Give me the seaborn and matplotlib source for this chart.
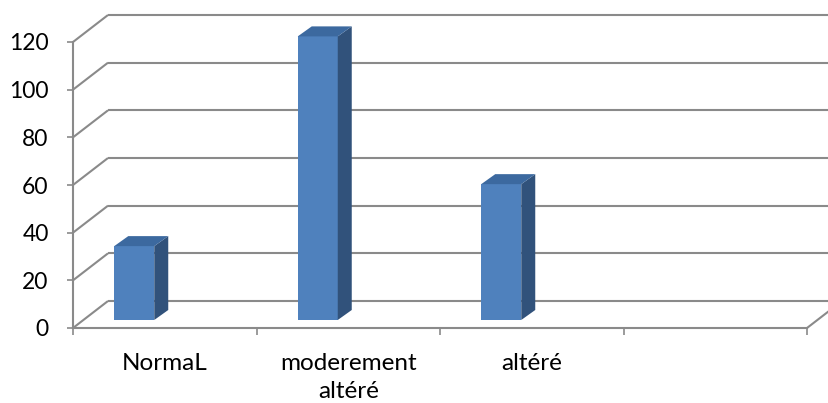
import numpy as np
import matplotlib
matplotlib.use("Agg")
import matplotlib.pyplot as plt
import matplotlib.transforms as mtransforms
from matplotlib.patches import Polygon
import seaborn as sns

# Data
categories = ["NormaL", "moderement\naltéré", "altéré"]
values = [31, 119, 57]
y_ticks = [0, 20, 40, 60, 80, 100, 120]
n_slots = 4  # the category axis keeps one empty slot on the right

# Styling
FRONT = "#4f81bd"
SIDE = "#31527b"
TOP = "#3c699f"
GRID = "#8a8a8a"

sns.set_theme(style="white")
plt.rcParams["font.family"] = ["Lato", "DejaVu Sans"]

W, H = 829, 403
fig = plt.figure(figsize=(W / 100, H / 100), dpi=100)
ax = fig.add_axes([73 / W, 75 / H, 734 / W, 286 / H])

sns.barplot(x=categories, y=values, color=FRONT, saturation=1, width=0.218,
            ax=ax, zorder=3, linewidth=0)

ax.set_xlim(-0.5, n_slots - 0.5)
ax.set_ylim(y_ticks[0], y_ticks[-1])

# pixel -> data conversion factors
px_x = ax.bbox.width / (n_slots)
px_y = ax.bbox.height / (y_ticks[-1] - y_ticks[0])

# depth of the floor / walls (back plane offset) in data units
wall_dx = 35 / px_x
wall_dy = 27 / px_y
x0, x1 = ax.get_xlim()

grid_kw = dict(color=GRID, lw=1.5, clip_on=False, zorder=1, solid_capstyle="butt")
for y in y_ticks:
    # side wall diagonal and back wall gridline
    ax.plot([x0, x0 + wall_dx], [y, y + wall_dy], **grid_kw)
    ax.plot([x0 + wall_dx, x1 + wall_dx], [y + wall_dy, y + wall_dy], **grid_kw)
# right edge of the floor
ax.plot([x1, x1 + wall_dx], [0, wall_dy], **grid_kw)

# bars sit halfway into the floor depth
bar_shift = mtransforms.ScaledTranslation(-30.5 / 100, 8 / 100, fig.dpi_scale_trans)
bar_tr = ax.transData + bar_shift
depth_dx = 14 / px_x
depth_dy = 10 / px_y

for p in list(ax.patches):
    p.set_transform(bar_tr)
    p.set_clip_on(False)
    bx0 = p.get_x()
    bx1 = bx0 + p.get_width()
    h = p.get_height()
    side = Polygon([(bx1, 0), (bx1 + depth_dx, depth_dy),
                    (bx1 + depth_dx, h + depth_dy), (bx1, h)],
                   closed=True, facecolor=SIDE, edgecolor="none",
                   transform=bar_tr, clip_on=False, zorder=3)
    top = Polygon([(bx0, h), (bx0 + depth_dx, h + depth_dy),
                   (bx1 + depth_dx, h + depth_dy), (bx1, h)],
                  closed=True, facecolor=TOP, edgecolor="none",
                  transform=bar_tr, clip_on=False, zorder=3)
    ax.add_patch(side)
    ax.add_patch(top)

# front axes
for s in ["top", "right"]:
    ax.spines[s].set_visible(False)
for s in ["left", "bottom"]:
    ax.spines[s].set_color(GRID)
    ax.spines[s].set_linewidth(1.5)
    ax.spines[s].set_zorder(2)

ax.set_yticks(y_ticks)
ax.set_yticklabels([str(v) for v in y_ticks])
ax.tick_params(axis="y", which="major", left=True, length=4.5, width=1.2,
               color=GRID, pad=13, labelsize=16.5, labelcolor="#000000")

ax.set_xticks(range(len(categories)))
ax.set_xticklabels(categories, linespacing=1.4)
ax.set_xticks(np.arange(x0, x1 + 0.01, 1.0), minor=True)
ax.tick_params(axis="x", which="major", bottom=True, length=0, pad=18,
               labelsize=17.5, labelcolor="#000000")
ax.tick_params(axis="x", which="minor", bottom=True, length=5, width=1.2,
               color=GRID)

ax.set_xlabel("")
ax.set_ylabel("")
ax.grid(False)

fig.savefig("out.png", dpi=100)
